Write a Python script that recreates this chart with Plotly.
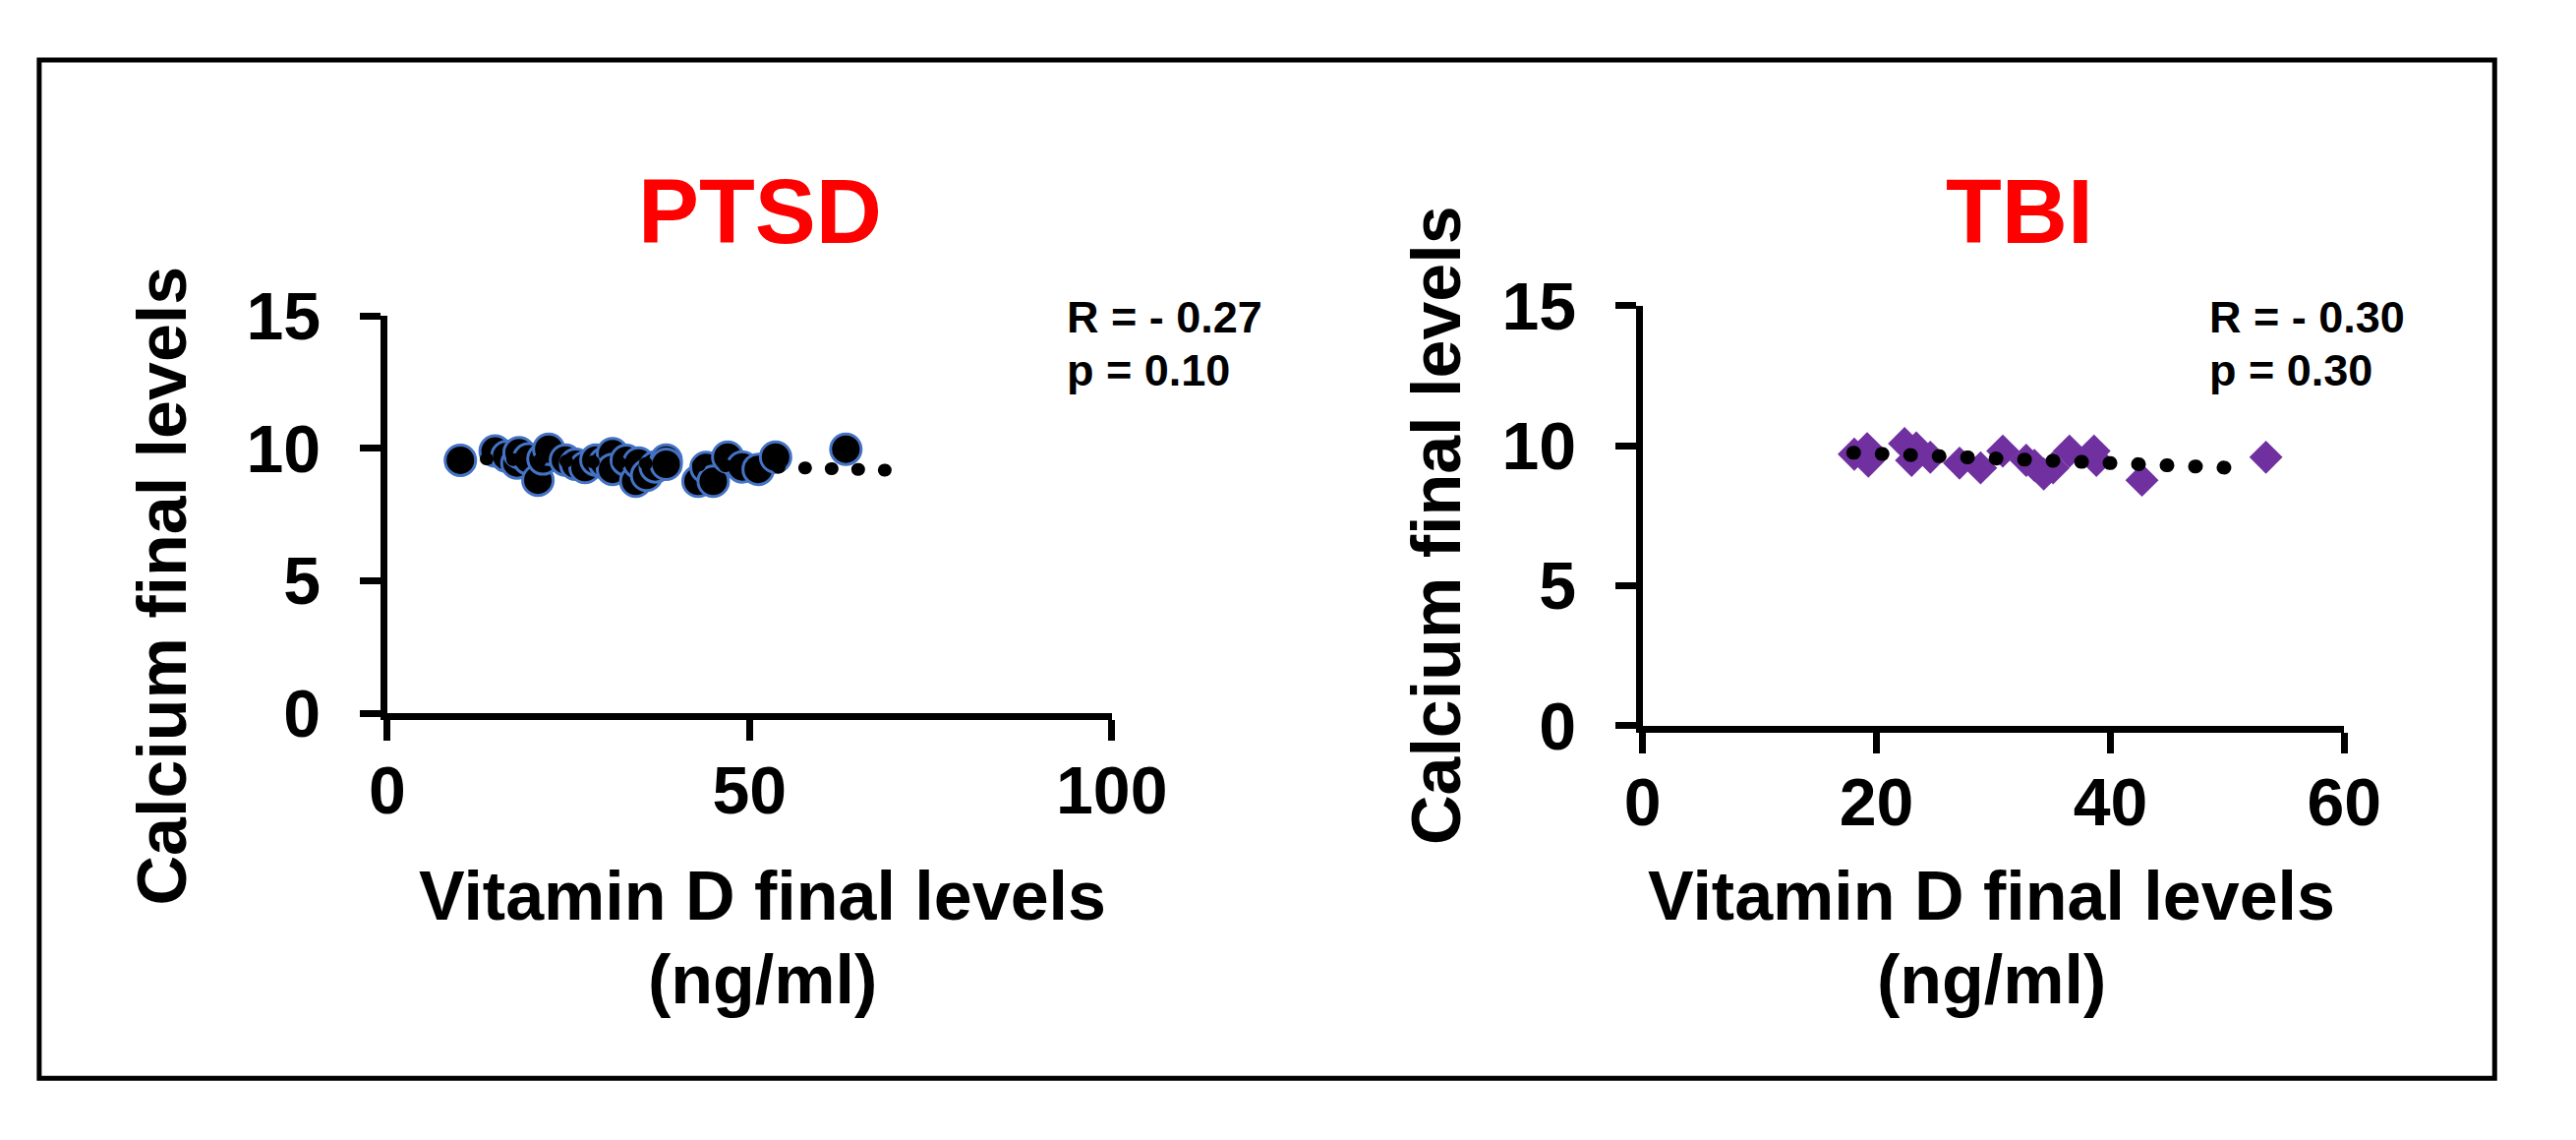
import plotly.graph_objects as go

# PTSD panel: vitamin D vs calcium
ptsd_vitd = [10.1, 14.9, 16.5, 17.9, 18.2, 19.5, 20.8, 21.5, 22.3, 24.6, 26.0, 27.3, 28.8, 30.0, 31.1, 31.1,
             33.0, 34.3, 34.7, 35.8, 37.0, 38.5, 38.5, 42.9, 44.0, 45.0, 47.0, 49.0, 51.2, 53.6, 63.3]
ptsd_ca = [9.55, 9.90, 9.70, 9.45, 9.84, 9.60, 8.80, 9.60, 9.97, 9.56, 9.40, 9.28, 9.56, 9.45, 9.80, 9.21,
           9.55, 8.76, 9.45, 8.98, 9.30, 9.56, 9.40, 8.76, 9.28, 8.76, 9.67, 9.30, 9.21, 9.67, 9.97]
ptsd_trend_x = [10, 71]
ptsd_trend_y = [9.63, 9.16]

# TBI panel
tbi_vitd = [18.1, 19.2, 19.3, 22.4, 23.0, 23.4, 24.6, 27.1, 28.9, 30.8, 32.8, 33.5, 34.3, 35.1, 36.5, 38.6, 38.8, 42.7, 53.3]
tbi_ca = [9.70, 9.90, 9.45, 10.08, 9.48, 9.92, 9.59, 9.38, 9.21, 9.81, 9.48, 9.30, 8.99, 9.21, 9.81, 9.81, 9.48, 8.77, 9.59]
tbi_trend_x = [18, 51]
tbi_trend_y = [9.75, 9.2]

ptsd_stats = ["R = - 0.27", "p = 0.10"]
tbi_stats = ["R = - 0.30", "p = 0.30"]

W, H = 2620, 1159
FONT = "Liberation Sans, Arial, sans-serif"


def px(x):
    return x / W


def py(y):
    return 1 - y / H


fig = go.Figure()

fig.add_trace(go.Scatter(x=ptsd_vitd, y=ptsd_ca, mode="markers", xaxis="x", yaxis="y",
                         marker=dict(symbol="circle", size=31, color="black",
                                     line=dict(color="#4472C4", width=3))))
fig.add_trace(go.Scatter(x=ptsd_trend_x, y=ptsd_trend_y, mode="lines", xaxis="x", yaxis="y",
                         line=dict(color="black", width=13, dash="1px,26px")))

fig.add_trace(go.Scatter(x=tbi_vitd, y=tbi_ca, mode="markers", xaxis="x2", yaxis="y2",
                         marker=dict(symbol="diamond", size=26, color="#7030A0", line=dict(width=0))))
fig.add_trace(go.Scatter(x=tbi_trend_x, y=tbi_trend_y, mode="lines", xaxis="x2", yaxis="y2",
                         line=dict(color="black", width=14, dash="1px,28px")))

tick_font = dict(family=FONT, size=68, color="black", weight="bold")
ax_common = dict(showline=True, linecolor="black", linewidth=7, ticks="outside", tickcolor="black",
                 tickwidth=7, ticklen=21, showgrid=False, zeroline=False, tickfont=tick_font)

fig.update_layout(
    width=W, height=H,
    margin=dict(l=0, r=0, t=0, b=0),
    paper_bgcolor="white", plot_bgcolor="white",
    showlegend=False,
    xaxis=dict(domain=[px(386), px(1145)], range=[0, 100], tickvals=[0, 50, 100], anchor="y",
               ticklabelstandoff=-8, **ax_common),
    yaxis=dict(domain=[py(735.5), py(303)], range=[0, 15], tickvals=[0, 5, 10, 15], anchor="x",
               ticklabelstandoff=26, **ax_common),
    xaxis2=dict(domain=[px(1701), px(2436)], range=[0, 60], tickvals=[0, 20, 40, 60], anchor="y2",
                ticklabelstandoff=-8, **ax_common),
    yaxis2=dict(domain=[py(749), py(292)], range=[0, 15], tickvals=[0, 5, 10, 15], anchor="x2",
                ticklabelstandoff=26, **ax_common),
)

title_font = dict(family=FONT, size=93, color="#FF0000", weight="bold")
label_font = dict(family=FONT, size=70, color="black", weight="bold")
stat_font = dict(family=FONT, size=45, color="black", weight="bold")

annos = [
    dict(x=px(777), y=py(189), text="PTSD", font=title_font),
    dict(x=px(2096), y=py(189), text="TBI", font=title_font),
    dict(x=px(150), y=py(597), text="Calcium final levels", textangle=-90, font=label_font),
    dict(x=px(1485), y=py(531), text="Calcium final levels", textangle=-90, font=label_font),
    dict(x=px(779), y=py(934), text="Vitamin D final levels", font=label_font),
    dict(x=px(779), y=py(1025), text="(ng/ml)", font=label_font),
    dict(x=px(2066), y=py(934), text="Vitamin D final levels", font=label_font),
    dict(x=px(2066), y=py(1025), text="(ng/ml)", font=label_font),
    dict(x=px(1096), y=py(305), text=ptsd_stats[0], xanchor="left", font=stat_font),
    dict(x=px(1096), y=py(362), text=ptsd_stats[1], xanchor="left", font=stat_font),
    dict(x=px(2292), y=py(305), text=tbi_stats[0], xanchor="left", font=stat_font),
    dict(x=px(2292), y=py(362), text=tbi_stats[1], xanchor="left", font=stat_font),
]
for a in annos:
    a.setdefault("xanchor", "center")
    fig.add_annotation(xref="paper", yref="paper", yanchor="middle", showarrow=False, **a)

# outer frame
fig.add_shape(type="rect", xref="paper", yref="paper", x0=px(21.5), x1=px(2593.5), y0=py(1132.5), y1=py(24.5),
              line=dict(color="black", width=5))

# round dots for the dotted trendlines, no page margin
post = """
document.body.style.margin = '0';
document.querySelectorAll('.scatterlayer .js-line').forEach(function(p){ p.style.strokeLinecap = 'round'; });
"""
fig.write_html("out.html", post_script=post, config={"displayModeBar": False})
